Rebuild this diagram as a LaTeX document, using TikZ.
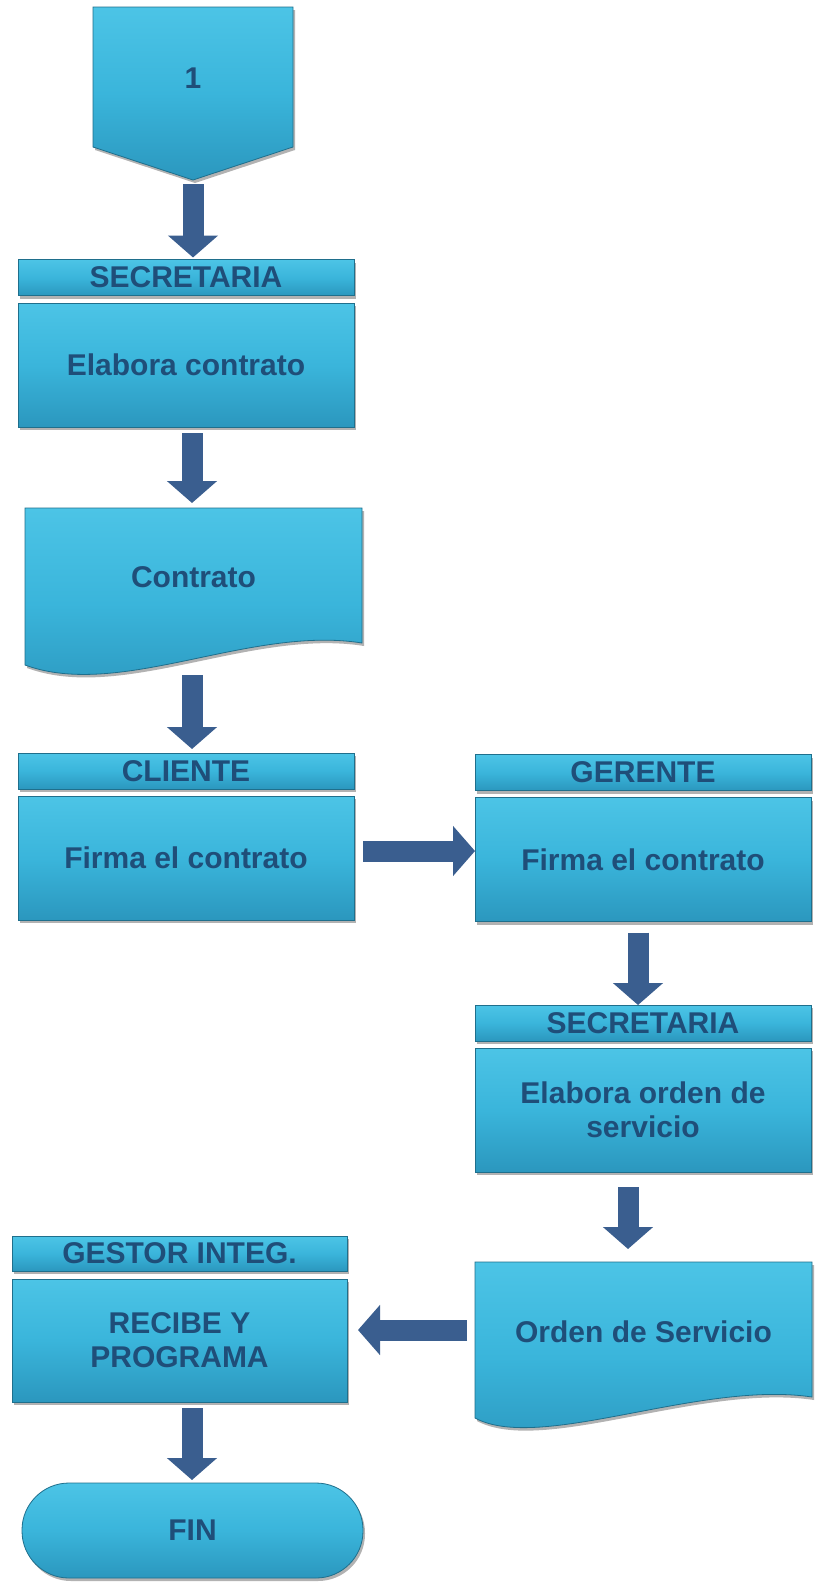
\documentclass[tikz,border=0pt]{standalone}
\usepackage{fontspec}
\setmainfont{Liberation Sans}
\usetikzlibrary{arrows.meta,shadows,calc}
\definecolor{ctop}{HTML}{4CC4E6}
\definecolor{cmid}{HTML}{3AB5DB}
\definecolor{cbot}{HTML}{2B97BE}
\definecolor{cedge}{HTML}{1F6F8C}
\definecolor{ctext}{HTML}{1F4E79}
\definecolor{carrow}{HTML}{3A5E8F}
\begin{document}
\begin{tikzpicture}[x=1pt,y=-1pt,
  shapefill/.style={top color=ctop, bottom color=cbot, middle color=cmid, draw=cedge, line width=0.8pt,
    drop shadow={shadow xshift=2pt, shadow yshift=-3pt, opacity=0.3, fill=black}},
  lbl/.style={text=ctext, font=\bfseries\fontsize{30}{34}\selectfont, align=center},
  ghost/.style={inner sep=0pt, outer sep=0pt},
  hdr/.style={shapefill, lbl, rectangle, ghost, minimum width=336pt, minimum height=36pt},
  procbox/.style={shapefill, lbl, rectangle, ghost, minimum width=336pt, minimum height=124pt},
  blk/.style={draw=carrow, line width=21pt, -{Triangle[width=49pt,length=22pt]}}
]
\fill[white] (0,0) rectangle (817,1585);
\useasboundingbox (0,0) rectangle (817,1585);

% off-page connector
\path[shapefill] (93,7) -- (293,7) -- (293,147) -- (193,180) -- (93,147) -- cycle;
\node[ghost, minimum width=200pt, minimum height=173pt] (p1) at (193,93.5) {};
\node[lbl] (p1t) at (193,78) {1};

% left column
\node[hdr] (h1) at (186,277.5) {SECRETARIA};
\node[procbox] (b1) at (186,365) {Elabora contrato};

\path[shapefill] (25,508) -- (362,508) -- (362,643) .. controls (250,625) and (120,700) .. (25,665) -- cycle;
\node[ghost, minimum width=337pt, minimum height=164pt] (d1) at (193.5,590) {};
\node[lbl] (d1t) at (193.5,577) {Contrato};

\node[hdr] (h2) at (186,771) {CLIENTE};
\node[procbox] (b2) at (186,858) {Firma el contrato};

% right column
\node[hdr] (h3) at (643,772.5) {GERENTE};
\node[procbox] (b3) at (643,859.5) {Firma el contrato};

\node[hdr] (h4) at (643,1023) {SECRETARIA};
\node[procbox] (b4) at (643,1110) {Elabora orden de\\servicio};

\path[shapefill] (475,1262) -- (812,1262) -- (812,1397) .. controls (700,1380) and (540,1453) .. (475,1418) -- cycle;
\node[ghost, minimum width=337pt, minimum height=163pt] (d2) at (643.5,1343.5) {};
\node[lbl] (d2t) at (643.5,1332) {Orden de Servicio};

% bottom left
\node[hdr, minimum width=335pt, minimum height=35pt] (h5) at (179.5,1253.5) {GESTOR INTEG.};
\node[procbox, minimum width=335pt, minimum height=123pt] (b5) at (179.5,1340.5) {RECIBE Y\\PROGRAMA};

\node[shapefill, lbl, rectangle, ghost, rounded corners=47pt, minimum width=341pt, minimum height=95pt] (fin) at (192.5,1530.5) {FIN};

% connectors
\draw[blk] ($(p1.south)+(0,4)$) -- ($(p1.south |- h1.north)+(0,-2)$);
\draw[blk] ($(b1.south)+(6,6)$) -- ($(b1.south |- d1.north)+(6,-5)$);
\draw[blk] ($(d1.south)+(-1.5,3)$) -- ($(d1.south |- h2.north)+(-1.5,-4)$);
\draw[blk] ($(b2.east)+(9,-7)$) -- ($(b2.east -| b3.west)+(0,-7)$);
\draw[blk] ($(b3.south)+(-5,11)$) -- ($(b3.south |- h4.north)+(-5,0)$);
\draw[blk] ($(b4.south)+(-15,15)$) -- ($(b4.south |- d2.north)+(-15,-13)$);
\draw[blk] ($(d2.west)+(-8,-13.5)$) -- ($(d2.west -| b5.east)+(11,-13.5)$);
\draw[blk] ($(b5.south)+(12.5,6)$) -- ($(b5.south |- fin.north)+(12.5,-3)$);
\end{tikzpicture}
\end{document}
